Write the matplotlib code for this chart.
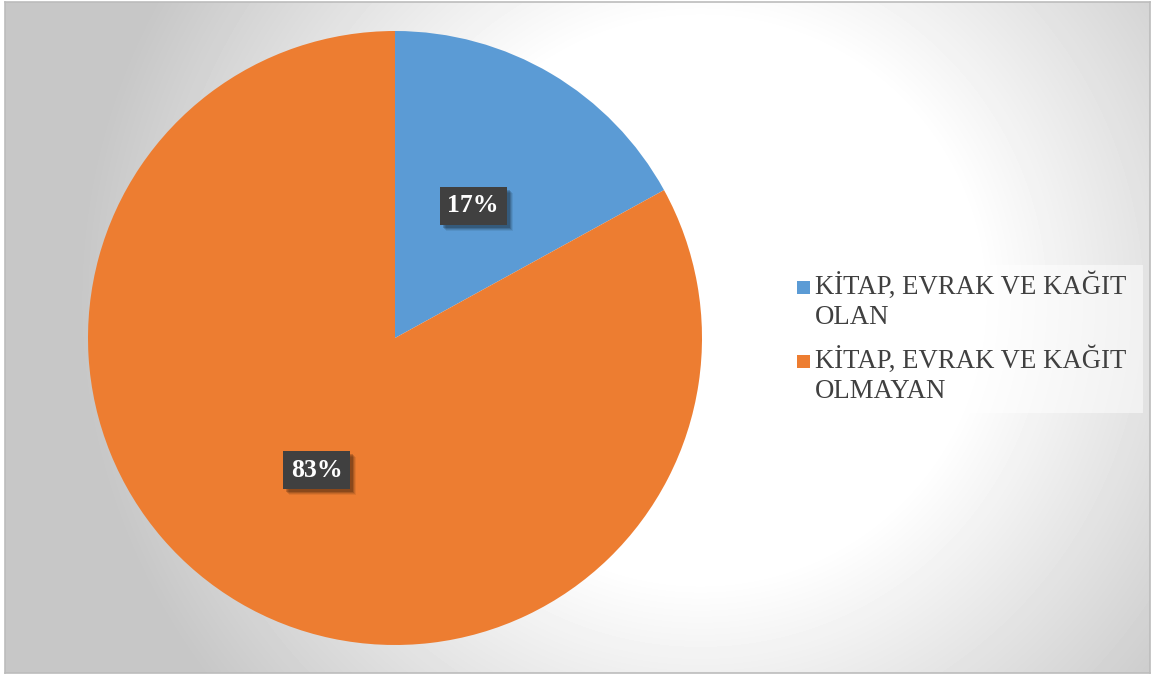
"""
Pie chart: share of items with / without books, documents and paper.
"""
import numpy as np
import matplotlib.pyplot as plt
from matplotlib.patches import Rectangle
from matplotlib.transforms import IdentityTransform

labels = ["KİTAP, EVRAK VE KAĞIT\nOLAN", "KİTAP, EVRAK VE KAĞIT\nOLMAYAN"]
values = [17, 83]
colors = ["#5B9BD5", "#ED7D31"]

W, H = 1153, 675
fig = plt.figure(figsize=(W / 100, H / 100), dpi=100)
fig.patch.set_facecolor("white")

# radial grey background of the chart area
bg = fig.add_axes([5 / W, 2 / H, 1145 / W, 671 / H])
yy, xx = np.mgrid[2:673, 5:1150]
d = np.hypot(xx - 700, yy - 300)
t = np.clip((d - 280) / 340, 0, 1)
shade = 1 - 0.22 * t
bg.imshow(shade, cmap="gray", vmin=0, vmax=1, aspect="auto",
          extent=[0, 1, 0, 1], origin="upper", interpolation="bilinear")
bg.set_xticks([])
bg.set_yticks([])
for s in bg.spines.values():
    s.set_color("#bcbcbc")
    s.set_linewidth(1.2)

# pie
ax = fig.add_axes([88 / W, 30 / H, 614 / W, 614 / H])
wedges, _, autotexts = ax.pie(values, colors=colors, startangle=90, counterclock=False,
                              autopct="%1.0f%%", pctdistance=0.5, radius=1,
                              wedgeprops=dict(linewidth=0))
ax.set_xlim(-1, 1)
ax.set_ylim(-1, 1)
ax.set_aspect("equal")
ax.axis("off")

for at in autotexts:
    at.set_family("Liberation Serif")
    at.set_fontsize(18.5)
    at.set_fontweight("bold")
    at.set_color("white")
    at.set_bbox(dict(boxstyle="square,pad=0.3", facecolor="#404040", edgecolor="none"))
    at.set_zorder(5)

# soft shadow under the label boxes
fig.canvas.draw()
for at in autotexts:
    ext = at.get_bbox_patch().get_window_extent()
    for k, a in [(6, 0.07), (5, 0.1), (4, 0.14), (3, 0.18)]:
        ax.add_patch(Rectangle((ext.x0 + k, ext.y0 - k), ext.width, ext.height,
                               transform=IdentityTransform(), facecolor="black", alpha=a,
                               edgecolor="none", zorder=4, clip_on=False))

# legend
fig.patches.append(Rectangle((783 / W, 1 - 413 / H), 360 / W, 148 / H,
                             transform=fig.transFigure, facecolor="white", alpha=0.5,
                             edgecolor="none"))
y0 = 295
for lab, col in zip(labels, colors):
    fig.patches.append(Rectangle((797 / W, 1 - (y0 - 1) / H), 13 / W, 13 / H,
                                 transform=fig.transFigure, facecolor=col, edgecolor="none"))
    fig.text(815 / W, 1 - (y0 + 29) / H, lab, family="Liberation Serif", fontsize=19.3,
             color="#404040", ha="left", va="baseline", linespacing=1.29)
    y0 += 74

fig.savefig("out.png", dpi=100)
